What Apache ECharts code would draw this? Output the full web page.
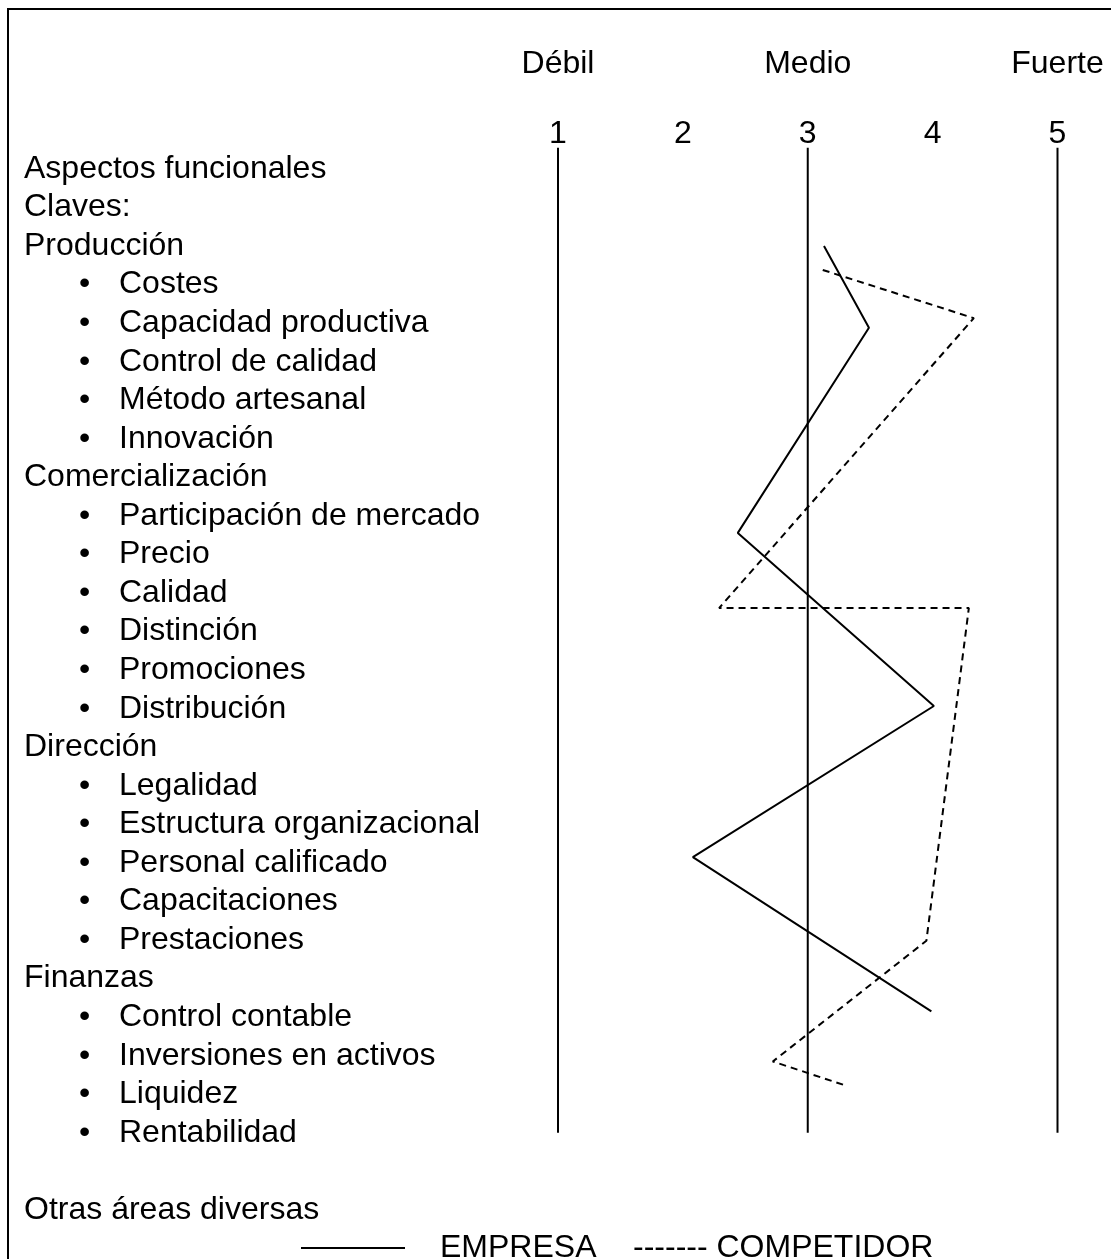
<!DOCTYPE html>
<html>
<head>
<meta charset="utf-8">
<script src="https://cdn.jsdelivr.net/npm/echarts@6/dist/echarts.min.js"></script>
<style>
  html, body { margin: 0; padding: 0; background: #fff; }
  #chart { width: 1111px; height: 1259px; }
</style>
</head>
<body>
<div id="chart"></div>
<script>
// rows of the left-hand list, top to bottom ("• " marks a bullet item)
var rowLabels = [
  'Aspectos funcionales', 'Claves:', 'Producción',
  '• Costes', '• Capacidad productiva', '• Control de calidad', '• Método artesanal', '• Innovación',
  'Comercialización',
  '• Participación de mercado', '• Precio', '• Calidad', '• Distinción', '• Promociones', '• Distribución',
  'Dirección',
  '• Legalidad', '• Estructura organizacional', '• Personal calificado', '• Capacitaciones', '• Prestaciones',
  'Finanzas',
  '• Control contable', '• Inversiones en activos', '• Liquidez', '• Rentabilidad',
  '', 'Otras áreas diversas'
];

// scale 1..5 and the words above it
var scaleTicks = [1, 2, 3, 4, 5];
var scaleWords = ['Débil', '', 'Medio', '', 'Fuerte'];

// vertical guide lines
var guideLevels = [1, 3, 5];
var guideSpan = [-0.5, 25.05];

// profile lines: score and row position (in row units)
var empresaScore = [3.13, 3.49, 2.44, 4.01, 2.08, 3.99];
var empresaRow   = [2.05, 4.17, 9.49, 13.98, 17.9, 21.9];
var competidorScore = [3.12, 4.33, 2.29, 4.29, 3.95, 2.72, 3.31];
var competidorRow   = [2.67, 3.92, 11.44, 11.44, 20.07, 23.2, 23.83];

var FONT = "'Liberation Sans', Arial, sans-serif";

var myChart = echarts.init(document.getElementById('chart'));

function pairs(xs, ys) {
  return xs.map(function (x, i) { return [x, ys[i]]; });
}

var guideSeries = guideLevels.map(function (lv) {
  return {
    type: 'line',
    silent: true,
    clip: false,
    symbol: 'none',
    lineStyle: { color: '#000', width: 2 },
    data: [[lv, guideSpan[0]], [lv, guideSpan[1]]]
  };
});

var option = {
  animation: false,
  backgroundColor: '#fff',
  textStyle: { fontFamily: FONT },
  grid: {
    left: 558, right: 53.5, top: 167, bottom: 51,
    containLabel: false, outerBoundsMode: 'none'
  },
  xAxis: [
    {
      type: 'value', position: 'top', min: 1, max: 5, interval: 1,
      axisLine: { show: false }, axisTick: { show: false }, splitLine: { show: false },
      axisLabel: { fontSize: 32, color: '#000', fontFamily: FONT, margin: 17 }
    },
    {
      type: 'value', position: 'top', min: 1, max: 5, interval: 1, offset: 70,
      axisLine: { show: false }, axisTick: { show: false }, splitLine: { show: false },
      axisLabel: {
        fontSize: 32, color: '#000', fontFamily: FONT, margin: 17,
        formatter: function (v) { return scaleWords[scaleTicks.indexOf(v)] || ''; }
      }
    }
  ],
  yAxis: [
    { type: 'value', show: false, position: 'right', inverse: true, min: 0, max: rowLabels.length - 1 },
    {
      type: 'category', position: 'left', inverse: true, boundaryGap: false, data: rowLabels,
      axisLine: { show: false }, axisTick: { show: false }, splitLine: { show: false },
      axisLabel: {
        interval: 0, align: 'left', margin: 534, color: '#000',
        fontSize: 32, fontFamily: FONT, hideOverlap: false,
        padding: [4, 0, 0, 0],
        formatter: function (v) {
          if (v.indexOf('• ') === 0) return '{pad|}{b|•}{t|' + v.slice(2) + '}';
          return '{t|' + v + '}';
        },
        rich: {
          pad: { width: 55 },
          b: { width: 40, fontSize: 32, fontFamily: FONT, color: '#000' },
          t: { fontSize: 32, fontFamily: FONT, color: '#000' }
        }
      }
    }
  ],
  legend: [
    {
      data: ['EMPRESA'], left: 296, top: 1227, selectedMode: false,
      icon: 'rect', itemWidth: 104, itemHeight: 2,
      textStyle: { fontSize: 32, color: '#000', fontFamily: FONT, padding: [0, 0, 0, 30] }
    },
    {
      data: ['COMPETIDOR'], left: 623, top: 1227, selectedMode: false,
      icon: 'rect', itemWidth: 0, itemHeight: 0,
      formatter: '------- {name}',
      textStyle: { fontSize: 32, color: '#000', fontFamily: FONT }
    }
  ],
  graphic: [
    {
      type: 'rect', silent: true,
      shape: { x: 8, y: 9, width: 1200, height: 1400 },
      style: { fill: 'none', stroke: '#000', lineWidth: 2 }
    }
  ],
  series: guideSeries.concat([
    {
      name: 'EMPRESA', type: 'line', clip: false, symbol: 'none',
      itemStyle: { color: '#000' },
      lineStyle: { color: '#000', width: 2, type: 'solid' },
      data: pairs(empresaScore, empresaRow)
    },
    {
      name: 'COMPETIDOR', type: 'line', clip: false, symbol: 'none',
      itemStyle: { color: '#000' },
      lineStyle: { color: '#000', width: 2, type: [7, 5] },
      data: pairs(competidorScore, competidorRow)
    }
  ])
};

if (option && typeof option === 'object') {
  myChart.setOption(option, true);
}
</script>
</body>
</html>
